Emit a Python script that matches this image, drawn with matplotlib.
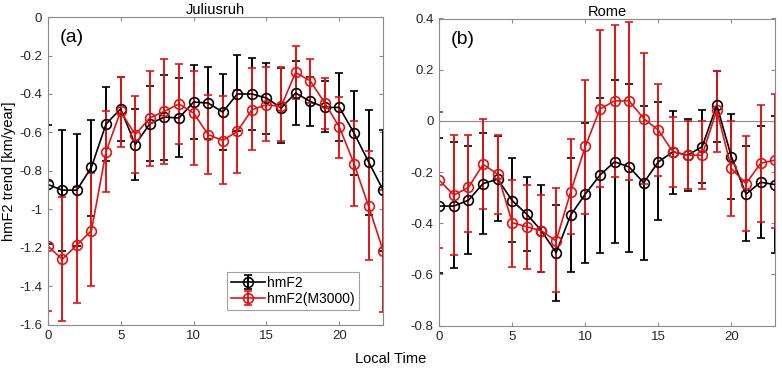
import numpy as np
import matplotlib
matplotlib.use('Agg')
import matplotlib.pyplot as plt

plt.rcParams['font.family'] = ['Liberation Sans', 'DejaVu Sans']

hours = np.arange(24)

# Juliusruh
jul_hmf2 = [-0.87, -0.90, -0.90, -0.78, -0.556, -0.477, -0.663, -0.555, -0.52, -0.525,
            -0.442, -0.447, -0.494, -0.40, -0.40, -0.421, -0.473, -0.395, -0.439, -0.47,
            -0.47, -0.603, -0.753, -0.90]
jul_hmf2_hi = [-0.56, -0.585, -0.61, -0.533, -0.366, -0.31, -0.48, -0.36, -0.30, -0.318,
               -0.249, -0.261, -0.294, -0.197, -0.214, -0.237, -0.266, -0.228, -0.314, -0.33,
               -0.292, -0.383, -0.485, -0.585]
jul_hmf2_lo = [-1.18, -1.215, -1.19, -1.035, -0.746, -0.646, -0.845, -0.75, -0.744, -0.729,
               -0.632, -0.632, -0.69, -0.59, -0.585, -0.61, -0.655, -0.56, -0.565, -0.60,
               -0.646, -0.82, -1.03, -1.215]
jul_m3000 = [-1.19, -1.259, -1.185, -1.11, -0.70, -0.49, -0.611, -0.525, -0.49, -0.452,
             -0.499, -0.611, -0.642, -0.594, -0.482, -0.456, -0.465, -0.288, -0.332, -0.447,
             -0.573, -0.762, -0.983, -1.216]
jul_m3000_hi = [-0.85, -0.936, -0.886, -0.81, -0.487, -0.31, -0.41, -0.283, -0.219, -0.243,
                -0.278, -0.404, -0.41, -0.378, -0.266, -0.26, -0.26, -0.15, -0.219, -0.318,
                -0.416, -0.542, -0.698, -0.90]
jul_m3000_lo = [-1.527, -1.579, -1.484, -1.40, -0.91, -0.677, -0.81, -0.776, -0.763, -0.658,
                -0.77, -0.815, -0.87, -0.81, -0.693, -0.646, -0.646, -0.427, -0.445, -0.582,
                -0.732, -0.98, -1.263, -1.535]

# Rome
rom_hmf2 = [-0.333, -0.333, -0.31, -0.245, -0.228, -0.312, -0.365, -0.43, -0.515, -0.368,
            -0.286, -0.212, -0.16, -0.18, -0.242, -0.16, -0.121, -0.134, -0.101, 0.061,
            -0.14, -0.286, -0.24, -0.249]
rom_hmf2_hi = [-0.066, -0.084, -0.097, -0.047, -0.06, -0.147, -0.219, -0.25, -0.329, -0.146,
               -0.01, 0.09, 0.159, 0.146, 0.057, 0.072, 0.038, 0.006, 0.044, 0.195,
               0.025, -0.10, -0.021, 0.018]
rom_hmf2_lo = [-0.596, -0.573, -0.52, -0.443, -0.39, -0.475, -0.508, -0.59, -0.703, -0.59,
               -0.557, -0.515, -0.477, -0.513, -0.544, -0.388, -0.284, -0.274, -0.242, -0.082,
               -0.307, -0.47, -0.457, -0.518]
rom_m3000 = [-0.232, -0.29, -0.26, -0.17, -0.208, -0.398, -0.414, -0.43, -0.469, -0.277,
             -0.10, 0.046, 0.078, 0.078, 0.009, -0.036, -0.121, -0.134, -0.134, 0.042,
             -0.186, -0.245, -0.166, -0.153]
rom_m3000_hi = [0.033, -0.056, -0.056, 0.009, -0.056, -0.23, -0.25, -0.29, -0.264, -0.071,
                0.159, 0.354, 0.374, 0.387, 0.266, 0.143, 0.016, 0.0, 0.0, 0.195,
                0.0, -0.06, 0.062, 0.104]
rom_m3000_lo = [-0.498, -0.525, -0.436, -0.345, -0.365, -0.57, -0.577, -0.592, -0.67, -0.443,
                -0.365, -0.26, -0.22, -0.23, -0.248, -0.215, -0.258, -0.268, -0.268, -0.121,
                -0.372, -0.43, -0.394, -0.418]

RED = '#e01414'
AX_COL = '#8a8a8a'


def draw(ax, mean, lo, hi, color, label):
    mean = np.array(mean)
    yerr = [mean - np.array(lo), np.array(hi) - mean]
    ax.errorbar(hours, mean, yerr=yerr, color=color, marker='o', markersize=7,
                markerfacecolor='none', markeredgewidth=1.2, linewidth=1.2,
                elinewidth=1.4, capsize=3.2, capthick=1.4, label=label)


def style(ax, ylim, yticks, title, tag):
    ax.set_xlim(0, 23)
    ax.set_ylim(*ylim)
    ax.set_xticks([0, 5, 10, 15, 20])
    ax.set_yticks(yticks)
    ax.set_yticklabels([f'{t:g}' if abs(t) > 1e-9 else '0' for t in yticks])
    ax.tick_params(direction='in', length=3, top=True, right=True,
                   labelsize=9.5, color=AX_COL, labelcolor='#262626', pad=4)
    for s in ax.spines.values():
        s.set_color(AX_COL)
        s.set_linewidth(0.8)
    ax.set_title(title, fontsize=10.5, pad=2)
    ax.text(0.035, 0.96, tag, transform=ax.transAxes, fontsize=14,
            va='top', ha='left')


fig = plt.figure(figsize=(7.82, 3.70), dpi=100)
ax1 = fig.add_axes([0.061, 0.122, 0.429, 0.832])
ax2 = fig.add_axes([0.5617, 0.120, 0.4296, 0.830])

draw(ax1, jul_hmf2, jul_hmf2_lo, jul_hmf2_hi, 'black', 'hmF2')
draw(ax1, jul_m3000, jul_m3000_lo, jul_m3000_hi, RED, 'hmF2(M3000)')
style(ax1, (-1.6, 0), np.round(np.arange(-1.6, 0.01, 0.2), 1), 'Juliusruh', '(a)')
ax1.set_ylabel('hmF2 trend [km/year]', fontsize=10.5, labelpad=2)
leg = ax1.legend(loc='lower left', bbox_to_anchor=(0.535, 0.048), fontsize=10,
                 frameon=True, fancybox=False, edgecolor=AX_COL, borderpad=0.3,
                 handlelength=2.4, handletextpad=0.2, labelspacing=0.15,
                 borderaxespad=0)
leg.get_frame().set_linewidth(0.8)

ax2.axhline(0, color='#8a8a8a', linewidth=0.8, zorder=0)
draw(ax2, rom_hmf2, rom_hmf2_lo, rom_hmf2_hi, 'black', 'hmF2')
draw(ax2, rom_m3000, rom_m3000_lo, rom_m3000_hi, RED, 'hmF2(M3000)')
style(ax2, (-0.8, 0.4), np.round(np.arange(-0.8, 0.41, 0.2), 1), 'Rome', '(b)')

fig.text(0.5, 0.03, 'Local Time', ha='center', va='center', fontsize=10.5)

fig.savefig('out.png', dpi=100)
